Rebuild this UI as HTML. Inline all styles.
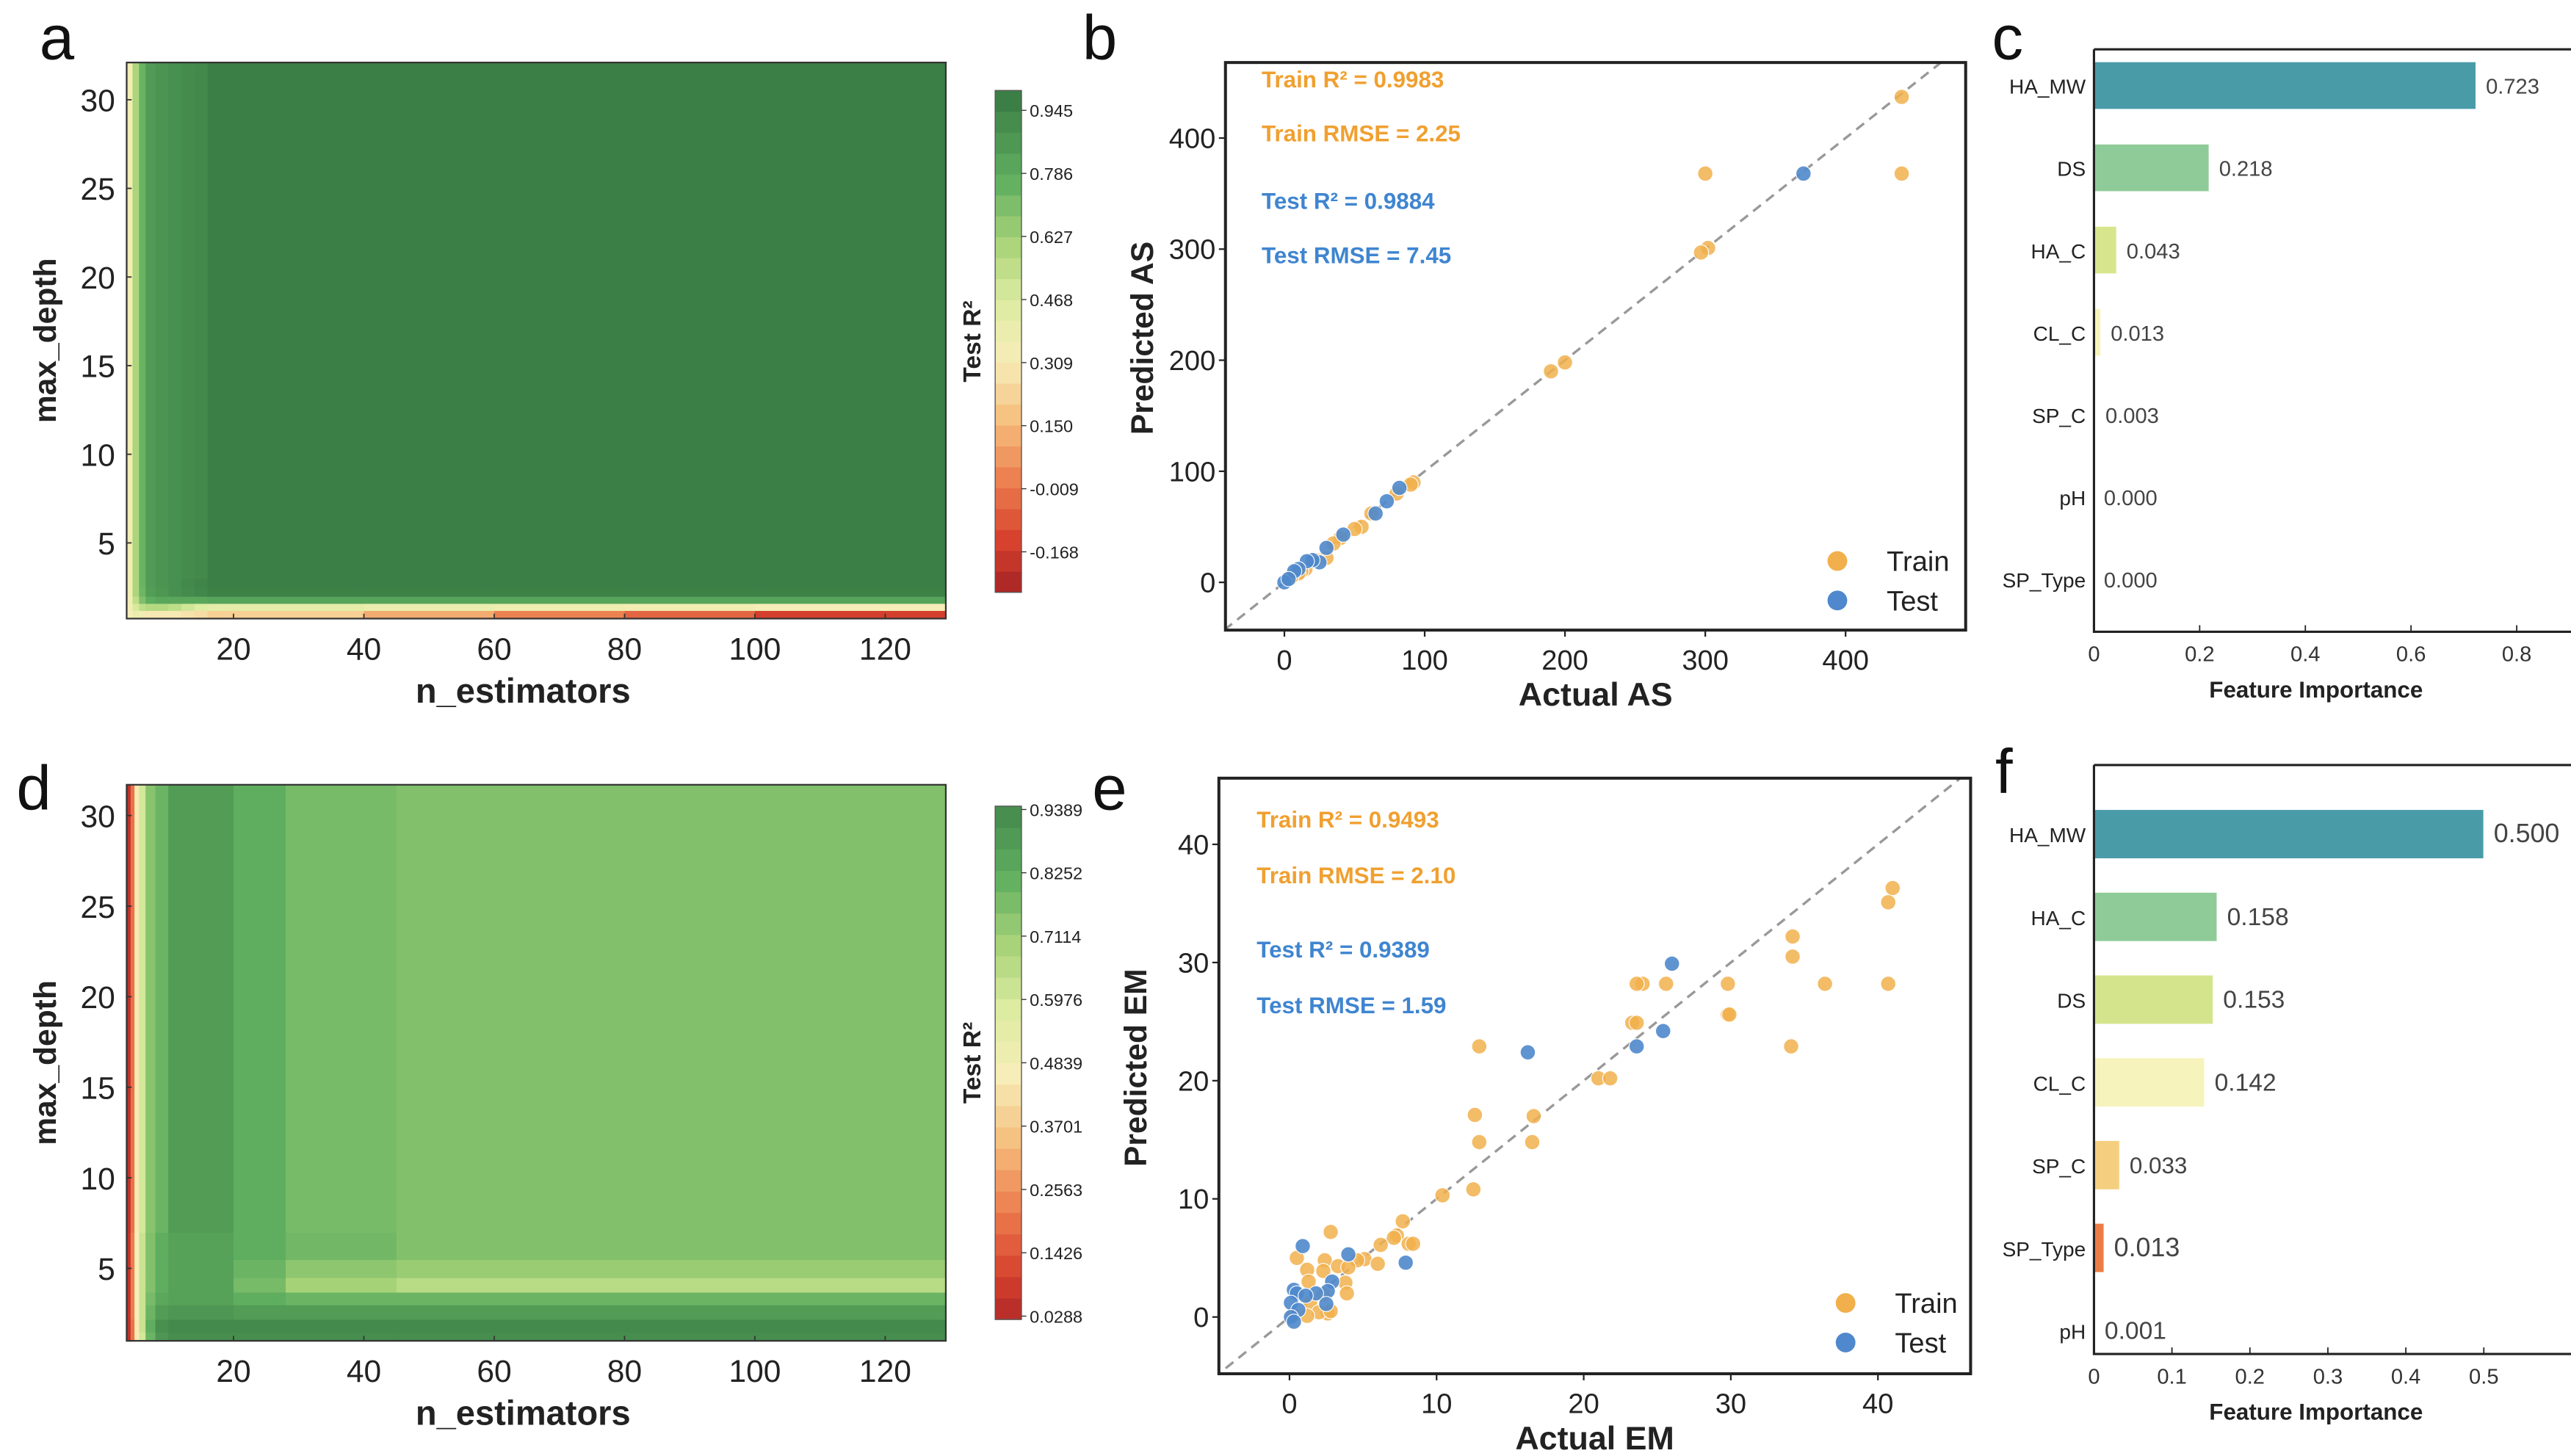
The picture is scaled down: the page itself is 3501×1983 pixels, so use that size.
<!DOCTYPE html>
<html><head><meta charset="utf-8"><style>
html,body{margin:0;padding:0;background:#fff;}
svg{display:block;font-family:"Liberation Sans Narrow","Liberation Sans",sans-serif;}
</style></head><body>
<svg id="fig" xmlns="http://www.w3.org/2000/svg" width="3501" height="1983" viewBox="0 0 1563 885" preserveAspectRatio="none">
<rect x="0" y="0" width="1563" height="885" fill="#fff"/>
<defs>
<clipPath id="clipB"><rect x="745" y="38" width="450" height="345"/></clipPath>
<clipPath id="clipE"><rect x="741" y="473" width="457" height="362"/></clipPath>
</defs>
<g id="root"></g>
</svg>
<script>
// ---------- Heatmap a data ----------
const aXEdges=[3.6,4.5,5.5,6.5,8,10,12,14,16,40,60,80,100,129.3];
const aYEdges=[0.73,1.2,1.6,2.0,2.5,3.0,32.1];
const aValues=[
 [0.32,0.38,0.35,0.3,0.3,0.3,0.28,0.26,0.22,0.12,0.02,-0.05,-0.15],
 [0.33,0.48,0.55,0.58,0.58,0.55,0.5,0.45,0.42,0.38,0.36,0.35,0.32],
 [0.34,0.55,0.7,0.78,0.8,0.8,0.8,0.8,0.82,0.82,0.82,0.82,0.82],
 [0.35,0.6,0.74,0.84,0.87,0.9,0.92,0.94,0.96,0.96,0.96,0.96,0.96],
 [0.35,0.6,0.75,0.85,0.88,0.9,0.93,0.95,0.97,0.97,0.97,0.97,0.97],
 [0.35,0.6,0.75,0.85,0.88,0.9,0.92,0.93,0.97,0.97,0.97,0.97,0.97]
];
const aCbTicks=[-0.168,-0.009,0.150,0.309,0.468,0.627,0.786,0.945];
const aCbLabels=["-0.168","-0.009","0.150","0.309","0.468","0.627","0.786","0.945"];
// ---------- Heatmap d data ----------
const dXEdges=[3.6,4.2,4.8,5.5,6.5,8,10,20,28,45,129.3];
const dYEdges=[1.0,1.5,2.2,3.0,3.7,4.5,5.5,7.0,31.7];
const dValues=[
 [0.05,0.2,0.45,0.6,0.8,0.9,0.93,0.93,0.93,0.93],
 [0.05,0.2,0.45,0.62,0.82,0.92,0.94,0.94,0.94,0.94],
 [0.06,0.22,0.46,0.62,0.8,0.88,0.9,0.88,0.88,0.88],
 [0.06,0.22,0.46,0.62,0.78,0.84,0.86,0.82,0.8,0.8],
 [0.06,0.22,0.46,0.62,0.76,0.82,0.86,0.78,0.7,0.66],
 [0.06,0.22,0.46,0.62,0.76,0.82,0.86,0.8,0.74,0.72],
 [0.06,0.22,0.46,0.62,0.76,0.82,0.86,0.82,0.79,0.76],
 [0.05,0.2,0.45,0.6,0.75,0.8,0.88,0.82,0.78,0.76]
];
const dCbTicks=[0.0288,0.1426,0.2563,0.3701,0.4839,0.5976,0.7114,0.8252,0.9389];
const dCbLabels=["0.0288","0.1426","0.2563","0.3701","0.4839","0.5976","0.7114","0.8252","0.9389"];
// ---------- Scatter b data ----------
const bTrainX=[440,300,440,302,297,190,200,92,90,80,62,55,50,40,35,30,22,15,12,10,5];
const bTrainY=[437,368,368,301,297,190,198,90,88,80,62,50,48,40,35,22,20,12,10,8,5];
const bTestX=[370,82,73,65,42,30,25,20,16,10,7,0,3];
const bTestY=[368,85,73,62,43,31,18,20,19,12,10,0,3];
const bTicks=[0,100,200,300,400];
// ---------- Scatter e data ----------
const eTrainX=[41,40.7,34.2,34.2,36.4,40.7,29.8,25.6,24,23.6,29.8,29.9,23.3,23.6,34.1,12.9,21,21.8,12.6,16.6,12.9,16.5,12.5,10.4,7.7,2.8,7.3,7.1,8.1,8.4,6.2,5.1,4.6,6,0.5,2.4,3.3,4,2.3,1.2,3.8,1.3,3.9,2.3,1.4,2.6,2,1.2,0.3,2.8];
const eTrainY=[36.3,35.1,32.2,30.5,28.2,28.2,28.2,28.2,28.2,28.2,25.6,25.6,24.9,24.9,22.9,22.9,20.2,20.2,17.1,17,14.8,14.8,10.8,10.3,8.1,7.2,6.9,6.7,6.2,6.2,6.1,4.9,4.8,4.5,5,4.8,4.3,4.2,3.9,4,2.9,3,2,1.9,1.2,0.3,0.4,0.1,0.2,0.5];
const eTestX=[26,16.2,25.4,23.6,0.9,4,7.9,2.9,0.3,0.5,2.6,1.8,1.1,0.1,2.5,0.6,0.1,0.3];
const eTestY=[29.9,22.4,24.2,22.9,6,5.3,4.6,3,2.3,2,2.2,2,1.8,1.2,1.1,0.6,0,-0.4];
const eTicks=[0,10,20,30,40];
// ---------- Bars c / f data ----------
const cFeatures=["HA_MW","DS","HA_C","CL_C","SP_C","pH","SP_Type"];
const cValues=[0.723,0.218,0.043,0.013,0.003,0.000,0.000];
const cLabels=["0.723","0.218","0.043","0.013","0.003","0.000","0.000"];
const cTicks=[0,0.2,0.4,0.6,0.8];
const cTickLabels=["0","0.2","0.4","0.6","0.8"];
const fFeatures=["HA_MW","HA_C","DS","CL_C","SP_C","SP_Type","pH"];
const fValues=[0.500,0.158,0.153,0.142,0.033,0.013,0.001];
const fLabels=["0.500","0.158","0.153","0.142","0.033","0.013","0.001"];
const fTicks=[0,0.1,0.2,0.3,0.4,0.5];
const fTickLabels=["0","0.1","0.2","0.3","0.4","0.5"];
const cColors=["#4a9ba8","#8fcb98","#d7e68c","#f6f4b8","#f5cf80","#ec7c45","#c0392b"];
const fColors=["#4a9ba8","#8fcb98","#d4e48c","#f6f4bc","#f5cf80","#ec7c45","#c0392b"];

const NS="http://www.w3.org/2000/svg";
const root=document.getElementById('root');
function mk(tag,attrs,parent,text){const e=document.createElementNS(NS,tag);for(const k in attrs)e.setAttribute(k,attrs[k]);if(text!==undefined)e.textContent=text;(parent||root).appendChild(e);return e;}
function lin(d0,d1,r0,r1){return v=>r0+(v-d0)*(r1-r0)/(d1-d0);}
const stops=[[0,[165,35,38]],[0.1,[214,64,45]],[0.22,[236,125,78]],[0.34,[246,190,125]],[0.46,[247,237,185]],[0.58,[220,236,160]],[0.7,[166,210,119]],[0.82,[95,174,96]],[1,[55,120,66]]];
function cmap(t){t=Math.max(0,Math.min(1,t));for(let i=1;i<stops.length;i++){if(t<=stops[i][0]){const a=stops[i-1],b=stops[i];const f=(t-a[0])/(b[0]-a[0]);const c=a[1].map((v,j)=>Math.round(v+(b[1][j]-v)*f));return `rgb(${c[0]},${c[1]},${c[2]})`;}}return 'rgb(55,120,66)';}

function heatmap(p){
  const g=mk('g',{});
  
  
  const sx=lin(p.xmin,p.xmax,p.x0,p.x1), sy=lin(p.ymin,p.ymax,p.y1,p.y0);
  const cv=lin(p.vmin,p.vmax,0,1);
  for(let r=0;r<p.vals.length;r++)for(let c=0;c<p.vals[r].length;c++){
    const x=sx(p.xe[c]),x2=sx(p.xe[c+1]),y=sy(p.ye[r+1]),y2=sy(p.ye[r]);
    const cell=mk('rect',{x:x,y:y,width:x2-x+0.4,height:y2-y+0.4,fill:cmap(cv(p.vals[r][c]))},g);
    
    
  }
  mk('rect',{x:p.x0,y:p.y0,width:p.x1-p.x0,height:p.y1-p.y0,fill:'none',stroke:'#333','stroke-width':1},g);
  [20,40,60,80,100,120].forEach(v=>{const x=sx(v);mk('line',{x1:x,x2:x,y1:p.y1,y2:p.y1-3,stroke:'#333','stroke-width':0.8},g);
    const t=mk('text',{x:x,y:p.y1+25,'text-anchor':'middle','font-size':19,fill:'#222'},g,String(v));});
  [5,10,15,20,25,30].forEach(v=>{const y=sy(v);mk('line',{x1:p.x0,x2:p.x0+3,y1:y,y2:y,stroke:'#333','stroke-width':0.8},g);
    const t=mk('text',{x:p.x0-7,y:y+7,'text-anchor':'end','font-size':19,fill:'#222'},g,String(v));});
  const xt=mk('text',{x:(p.x0+p.x1)/2-8,y:p.y1+51,'text-anchor':'middle','font-size':21,'font-weight':'bold',fill:'#222','font-family':'Liberation Sans, sans-serif'},g,'n_estimators');
  
  const yt=mk('text',{x:0,y:0,transform:`translate(${p.x0-43},${(p.y0+p.y1)/2}) rotate(-90)`,'text-anchor':'middle','font-size':19,'font-weight':'bold',fill:'#222','font-family':'Liberation Sans, sans-serif'},g,'max_depth');
  
  const cb=mk('g',{},g);
  
  
  const cy=lin(p.cbVmin,p.cbVmax,p.cbY1,p.cbY0);
  const n=24;
  for(let i=0;i<n;i++){const v0=p.cbVmin+(p.cbVmax-p.cbVmin)*i/n,v1=p.cbVmin+(p.cbVmax-p.cbVmin)*(i+1)/n;
    mk('rect',{x:605,y:cy(v1),width:16,height:cy(v0)-cy(v1)+0.3,fill:cmap(cv((v0+v1)/2))},cb);}
  mk('rect',{x:605,y:p.cbY0,width:16,height:p.cbY1-p.cbY0,fill:'none',stroke:'#555','stroke-width':0.6},cb);
  p.cbTicks.forEach((v,i)=>{const y=cy(v);mk('line',{x1:621,x2:624,y1:y,y2:y,stroke:'#333','stroke-width':0.6},cb);
    const t=mk('text',{x:626,y:y+4,'font-size':10.5,fill:'#222'},cb,p.cbLabels[i]);});
  const ct=mk('text',{x:0,y:0,transform:`translate(596,${(p.cbY0+p.cbY1)/2}) rotate(-90)`,'text-anchor':'middle','font-size':15,'font-weight':'bold',fill:'#222','font-family':'Liberation Sans, sans-serif'},cb,'Test R²');
  
}
heatmap({name:'heatmap-a',x0:77,x1:575,y0:38,y1:376,xmin:3.6,xmax:129.3,ymin:0.73,ymax:32.1,xe:aXEdges,ye:aYEdges,vals:aValues,vmin:-0.27,vmax:1.0,cbY0:55,cbY1:360,cbVmin:-0.27,cbVmax:0.995,cbTicks:aCbTicks,cbLabels:aCbLabels});
heatmap({name:'heatmap-d',x0:77,x1:575,y0:477,y1:815,xmin:3.6,xmax:129.3,ymin:1.0,ymax:31.7,xe:dXEdges,ye:dYEdges,vals:dValues,vmin:0.0,vmax:1.0,cbY0:490,cbY1:802,cbVmin:0.0228,cbVmax:0.9449,cbTicks:dCbTicks,cbLabels:dCbLabels});

function scatter(p){
  const g=mk('g',{});
  
  
  const sx=lin(p.xmin,p.xmax,p.x0,p.x1), sy=lin(p.ymin,p.ymax,p.y1,p.y0);
  const cg=mk('g',{'clip-path':`url(#${p.clip})`},g);
  mk('line',{x1:sx(p.xmin-10),y1:sy(p.xmin-10),x2:sx(p.xmax+10),y2:sy(p.xmax+10),stroke:'#999','stroke-width':1.5,'stroke-dasharray':'6,4'},cg);
  p.trX.forEach((v,i)=>{const c=mk('circle',{cx:sx(v),cy:sy(p.trY[i]),r:4.6,fill:'#f1b04c','fill-opacity':0.85,stroke:'#fff','stroke-width':0.5},cg);});
  p.teX.forEach((v,i)=>{const c=mk('circle',{cx:sx(v),cy:sy(p.teY[i]),r:4.6,fill:'#4f88cc','fill-opacity':0.9,stroke:'#fff','stroke-width':0.5},cg);});
  mk('rect',{x:p.x0,y:p.y0,width:p.x1-p.x0,height:p.y1-p.y0,fill:'none',stroke:'#222','stroke-width':1.8},g);
  p.ticks.forEach(v=>{const x=sx(v);mk('line',{x1:x,x2:x,y1:p.y1,y2:p.y1+4,stroke:'#222','stroke-width':1},g);
    const t=mk('text',{x:x,y:p.y1+24,'text-anchor':'middle','font-size':17,fill:'#222'},g,String(v));
    const y=sy(v);mk('line',{x1:p.x0,x2:p.x0-4,y1:y,y2:y,stroke:'#222','stroke-width':1},g);
    const t2=mk('text',{x:p.x0-6,y:y+6,'text-anchor':'end','font-size':17,fill:'#222'},g,String(v));});
  const xt=mk('text',{x:(p.x0+p.x1)/2,y:p.y1+46,'text-anchor':'middle','font-size':20,'font-weight':'bold',fill:'#222','font-family':'Liberation Sans, sans-serif'},g,p.xtitle);
  
  const yt=mk('text',{x:0,y:0,transform:`translate(${p.x0-44},${(p.y0+p.y1)/2-5}) rotate(-90)`,'text-anchor':'middle','font-size':19,'font-weight':'bold',fill:'#222','font-family':'Liberation Sans, sans-serif'},g,p.ytitle);
  
  p.stats.forEach(s=>{const t=mk('text',{x:p.sx,y:s[1],'font-size':14,'font-weight':'bold',fill:s[2],'font-family':'Liberation Sans, sans-serif'},g,s[0]);});
  const lg=mk('g',{},g);
  
  
  [['Train','#f1b04c',p.ly],['Test','#4f88cc',p.ly+24]].forEach(e=>{
    const it=mk('g',{},lg);
    
    
    mk('circle',{cx:p.lx,cy:e[2],r:6,fill:e[1]},it);
    mk('text',{x:p.lx+30,y:e[2]+6,'font-size':17,fill:'#222'},it,e[0]);});
}
scatter({name:'scatter-b',clip:'clipB',x0:745,x1:1195,y0:38,y1:383,xmin:-42,xmax:485.6,ymin:-43,ymax:468,trX:bTrainX,trY:bTrainY,teX:bTestX,teY:bTestY,ticks:bTicks,xtitle:'Actual AS',ytitle:'Predicted AS',sx:767,
  stats:[['Train R² = 0.9983',53,'#f0a030'],['Train RMSE = 2.25',86,'#f0a030'],['Test R² =   0.9884',127,'#3f85d0'],['Test RMSE = 7.45',160,'#3f85d0']],lx:1117,ly:341});
scatter({name:'scatter-e',clip:'clipE',x0:741,x1:1198,y0:473,y1:835,xmin:-4.8,xmax:46.3,ymin:-4.8,ymax:45.6,trX:eTrainX,trY:eTrainY,teX:eTestX,teY:eTestY,ticks:eTicks,xtitle:'Actual EM',ytitle:'Predicted EM',sx:764,
  stats:[['Train R² = 0.9493',503,'#f0a030'],['Train RMSE = 2.10',537,'#f0a030'],['Test R² = 0.9389',582,'#3f85d0'],['Test RMSE = 1.59',616,'#3f85d0']],lx:1122,ly:792});

function bars(p){
  const g=mk('g',{});
  
  
  const sx=lin(0,p.xmax,1273,p.x1);
  p.feat.forEach((f,i)=>{const cy=p.c0+i*p.step;
    const b=mk('rect',{x:1273,y:cy-p.h/2,width:Math.max(0.5,sx(p.vals[i])-1273),height:p.h,fill:p.colors[i],stroke:'#fff','stroke-width':0.6},g);
    
    const t=mk('text',{x:1268,y:cy+5,'text-anchor':'end','font-size':12.5,fill:'#222'},g,f);
    const v=mk('text',{x:sx(p.vals[i])+6,y:cy+5,'font-size':p.fs[i],fill:'#444'},g,p.labels[i]);});
  mk('polyline',{points:`1273,${p.y0} 1273,${p.y1} 1563,${p.y1}`,fill:'none',stroke:'#222','stroke-width':1.4},g);
  mk('line',{x1:1273,x2:1563,y1:p.y0,y2:p.y0,stroke:'#222','stroke-width':1.4},g);
  p.ticks.forEach((v,i)=>{const x=sx(v);mk('line',{x1:x,x2:x,y1:p.y1,y2:p.y1-4,stroke:'#222','stroke-width':0.8},g);
    const t=mk('text',{x:x,y:p.y1+18,'text-anchor':'middle','font-size':13,fill:'#333'},g,p.tl[i]);});
  const xt=mk('text',{x:1408,y:p.y1+40,'text-anchor':'middle','font-size':14,'font-weight':'bold',fill:'#222','font-family':'Liberation Sans, sans-serif'},g,'Feature Importance');
  
}
bars({name:'bar-chart-c',feat:cFeatures,vals:cValues,labels:cLabels,colors:cColors,ticks:cTicks,tl:cTickLabels,xmax:0.8,x1:1530,y0:30,y1:384,c0:52,step:50,h:29,fs:[13,13,13,13,13,13,13]});
bars({name:'bar-chart-f',feat:fFeatures,vals:fValues,labels:fLabels,colors:fColors,ticks:fTicks,tl:fTickLabels,xmax:0.5,x1:1510,y0:465,y1:823,c0:507,step:50.3,h:30,fs:[16,15,15,15,14,16,15]});

[['a',24,36],['b',658,36],['c',1211,36],['d',10,492],['e',664,492],['f',1213,482]].forEach(l=>{
  const t=mk('text',{x:l[1],y:l[2],'font-size':38,fill:'#111','font-family':'Liberation Sans, sans-serif'},root,l[0]);
  
  
});
</script>
</body></html>
